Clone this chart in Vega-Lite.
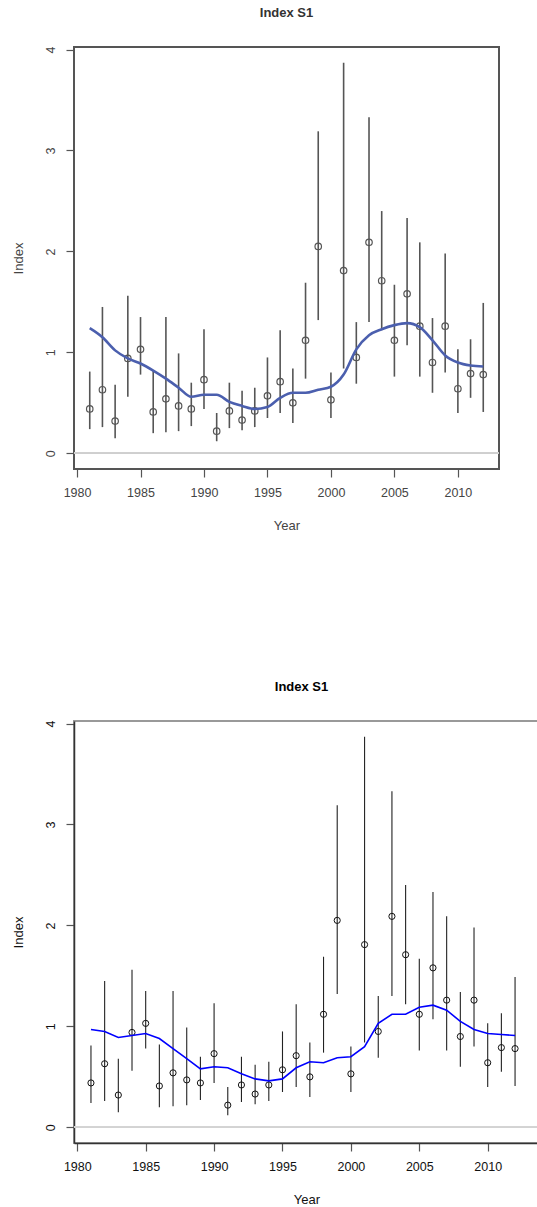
{
  "$schema": "https://vega.github.io/schema/vega-lite/v6.json",
  "padding": {"left": 11, "top": 6, "right": 0, "bottom": 0},
  "background": "white",
  "spacing": 146,
  "datasets": {
    "s1": [
      {"year": 1981, "idx": 0.44, "lo": 0.24, "hi": 0.81, "fitA": 1.24, "fitB": 0.97},
      {"year": 1982, "idx": 0.63, "lo": 0.26, "hi": 1.45, "fitA": 1.15, "fitB": 0.95},
      {"year": 1983, "idx": 0.32, "lo": 0.15, "hi": 0.68, "fitA": 1.02, "fitB": 0.89},
      {"year": 1984, "idx": 0.94, "lo": 0.56, "hi": 1.56, "fitA": 0.94, "fitB": 0.91},
      {"year": 1985, "idx": 1.03, "lo": 0.78, "hi": 1.35, "fitA": 0.89, "fitB": 0.93},
      {"year": 1986, "idx": 0.41, "lo": 0.20, "hi": 0.82, "fitA": 0.82, "fitB": 0.88},
      {"year": 1987, "idx": 0.54, "lo": 0.21, "hi": 1.35, "fitA": 0.74, "fitB": 0.78},
      {"year": 1988, "idx": 0.47, "lo": 0.22, "hi": 0.99, "fitA": 0.65, "fitB": 0.68},
      {"year": 1989, "idx": 0.44, "lo": 0.27, "hi": 0.70, "fitA": 0.56, "fitB": 0.58},
      {"year": 1990, "idx": 0.73, "lo": 0.44, "hi": 1.23, "fitA": 0.58, "fitB": 0.60},
      {"year": 1991, "idx": 0.22, "lo": 0.12, "hi": 0.40, "fitA": 0.58, "fitB": 0.59},
      {"year": 1992, "idx": 0.42, "lo": 0.25, "hi": 0.70, "fitA": 0.51, "fitB": 0.53},
      {"year": 1993, "idx": 0.33, "lo": 0.23, "hi": 0.62, "fitA": 0.47, "fitB": 0.48},
      {"year": 1994, "idx": 0.42, "lo": 0.26, "hi": 0.65, "fitA": 0.44, "fitB": 0.46},
      {"year": 1995, "idx": 0.57, "lo": 0.35, "hi": 0.95, "fitA": 0.46, "fitB": 0.48},
      {"year": 1996, "idx": 0.71, "lo": 0.40, "hi": 1.22, "fitA": 0.55, "fitB": 0.59},
      {"year": 1997, "idx": 0.50, "lo": 0.30, "hi": 0.84, "fitA": 0.60, "fitB": 0.65},
      {"year": 1998, "idx": 1.12, "lo": 0.74, "hi": 1.69, "fitA": 0.60, "fitB": 0.64},
      {"year": 1999, "idx": 2.05, "lo": 1.32, "hi": 3.19, "fitA": 0.63, "fitB": 0.69},
      {"year": 2000, "idx": 0.53, "lo": 0.35, "hi": 0.80, "fitA": 0.66, "fitB": 0.70},
      {"year": 2001, "idx": 1.81, "lo": 0.84, "hi": 3.87, "fitA": 0.78, "fitB": 0.80},
      {"year": 2002, "idx": 0.95, "lo": 0.69, "hi": 1.30, "fitA": 1.03, "fitB": 1.03},
      {"year": 2003, "idx": 2.09, "lo": 1.30, "hi": 3.33, "fitA": 1.17, "fitB": 1.12},
      {"year": 2004, "idx": 1.71, "lo": 1.22, "hi": 2.40, "fitA": 1.23, "fitB": 1.12},
      {"year": 2005, "idx": 1.12, "lo": 0.76, "hi": 1.67, "fitA": 1.27, "fitB": 1.19},
      {"year": 2006, "idx": 1.58, "lo": 1.07, "hi": 2.33, "fitA": 1.29, "fitB": 1.21},
      {"year": 2007, "idx": 1.26, "lo": 0.76, "hi": 2.09, "fitA": 1.25, "fitB": 1.16},
      {"year": 2008, "idx": 0.90, "lo": 0.60, "hi": 1.34, "fitA": 1.12, "fitB": 1.05},
      {"year": 2009, "idx": 1.26, "lo": 0.80, "hi": 1.98, "fitA": 0.97, "fitB": 0.97},
      {"year": 2010, "idx": 0.64, "lo": 0.40, "hi": 1.03, "fitA": 0.90, "fitB": 0.93},
      {"year": 2011, "idx": 0.79, "lo": 0.55, "hi": 1.13, "fitA": 0.87, "fitB": 0.92},
      {"year": 2012, "idx": 0.78, "lo": 0.41, "hi": 1.49, "fitA": 0.86, "fitB": 0.91}
    ]
  },
  "config": {
    "font": "Liberation Sans",
    "axis": {
      "grid": false,
      "tickSize": 8,
      "tickWidth": 1.2,
      "labelFont": "Liberation Sans",
      "labelFontSize": 12.5,
      "titleFont": "Liberation Sans",
      "titleFontSize": 13,
      "titleFontWeight": "normal"
    },
    "axisX": {"labelPadding": 9, "titlePadding": 21, "labelFlush": false},
    "axisY": {"labelAngle": -90, "labelAlign": "center", "labelBaseline": "bottom", "labelPadding": 9, "titlePadding": 19},
    "title": {"font": "Liberation Sans", "fontSize": 13, "fontWeight": "bold", "offset": 26, "frame": "group"}
  },
  "vconcat": [
    {
      "title": {"text": "Index S1", "color": "#333"},
      "width": 425,
      "height": 422,
      "view": {"stroke": "#555", "strokeWidth": 2},
      "data": {"name": "s1"},
      "encoding": {
        "x": {"field": "year", "type": "quantitative",
          "scale": {"domain": [1979.76, 2013.24], "nice": false, "zero": false},
          "axis": {"title": "Year", "values": [1980, 1985, 1990, 1995, 2000, 2005, 2010], "format": "d", "domain": false, "tickColor": "#555", "labelColor": "#444", "titleColor": "#444"}}
      },
      "layer": [
        {"mark": {"type": "rule", "color": "#cfcfcf", "strokeWidth": 1.5},
         "encoding": {"y": {"datum": 0, "type": "quantitative",
           "scale": {"domain": [-0.155, 4.025], "nice": false, "zero": false},
           "axis": {"title": "Index", "values": [0, 1, 2, 3, 4], "format": "d", "domain": false, "tickColor": "#555", "labelColor": "#444", "titleColor": "#444"}},
           "x": null}},
        {"mark": {"type": "rule", "color": "#555", "strokeWidth": 1.6},
         "encoding": {"y": {"field": "lo", "type": "quantitative", "scale": {"domain": [-0.155, 4.025], "nice": false, "zero": false}}, "y2": {"field": "hi"}}},
        {"mark": {"type": "point", "shape": "circle", "filled": false, "color": "#555", "strokeWidth": 1.2, "size": 42, "opacity": 1},
         "encoding": {"y": {"field": "idx", "type": "quantitative", "scale": {"domain": [-0.155, 4.025], "nice": false, "zero": false}}}},
        {"mark": {"type": "line", "color": "#4b5fae", "strokeWidth": 2.6, "interpolate": "monotone"},
         "encoding": {"y": {"field": "fitA", "type": "quantitative", "scale": {"domain": [-0.155, 4.025], "nice": false, "zero": false}}}}
      ]
    },
    {
      "title": {"text": "Index S1", "color": "#000", "dx": -5},
      "width": 465,
      "height": 422,
      "view": {"stroke": "#999", "strokeWidth": 2},
      "data": {"name": "s1"},
      "encoding": {
        "x": {"field": "year", "type": "quantitative",
          "scale": {"domain": [1979.76, 2013.75], "nice": false, "zero": false},
          "axis": {"title": "Year", "values": [1980, 1985, 1990, 1995, 2000, 2005, 2010], "format": "d", "domain": true, "domainColor": "#333", "domainWidth": 1.5, "tickColor": "#555", "labelColor": "#111", "titleColor": "#111"}}
      },
      "layer": [
        {"mark": {"type": "rule", "color": "#d3d3d3", "strokeWidth": 1.5},
         "encoding": {"y": {"datum": 0, "type": "quantitative",
           "scale": {"domain": [-0.155, 4.025], "nice": false, "zero": false},
           "axis": {"title": "Index", "values": [0, 1, 2, 3, 4], "format": "d", "domain": true, "domainColor": "#333", "domainWidth": 1.5, "tickColor": "#555", "labelColor": "#111", "titleColor": "#111"}},
           "x": null}},
        {"mark": {"type": "rule", "color": "#222", "strokeWidth": 1.1},
         "encoding": {"y": {"field": "lo", "type": "quantitative", "scale": {"domain": [-0.155, 4.025], "nice": false, "zero": false}}, "y2": {"field": "hi"}}},
        {"mark": {"type": "point", "shape": "circle", "filled": false, "color": "#111", "strokeWidth": 1, "size": 38, "opacity": 1},
         "encoding": {"y": {"field": "idx", "type": "quantitative", "scale": {"domain": [-0.155, 4.025], "nice": false, "zero": false}}}},
        {"mark": {"type": "line", "color": "#0000ff", "strokeWidth": 1.6},
         "encoding": {"y": {"field": "fitB", "type": "quantitative", "scale": {"domain": [-0.155, 4.025], "nice": false, "zero": false}}}}
      ]
    }
  ]
}
